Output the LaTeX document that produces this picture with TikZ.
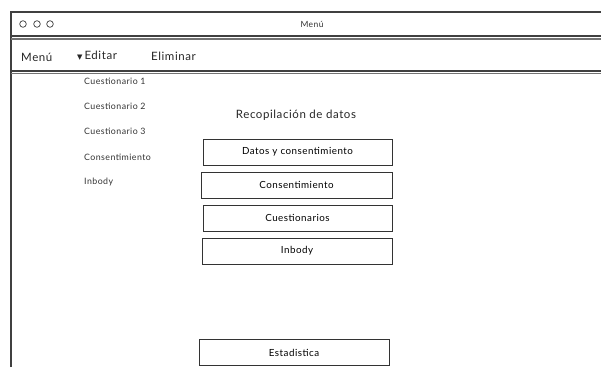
\documentclass[tikz,border=0pt]{standalone}
\usepackage{fontspec}
\setmainfont[LetterSpace=5]{Lato}
\newfontfamily\symfont{DejaVu Sans}
\begin{document}
\begin{tikzpicture}[x=1pt,y=-1pt,
  frame/.style={draw=black!75,line width=1.1pt},
  sideitem/.style={anchor=west,font=\fontsize{8.8}{10}\selectfont,text=black!80,inner sep=0pt},
  menuitem/.style={anchor=west,font=\fontsize{11.5}{13}\selectfont,text=black!85,inner sep=0pt},
  panelbox/.style={draw=black!80,line width=0.8pt,minimum height=26pt,inner sep=0pt,font=\fontsize{9.8}{11}\selectfont}]
\useasboundingbox (0,0) rectangle (601,367);
% window frame
\draw[frame] (11,367) -- (11,12) -- (601,12);
\draw[frame] (11,36) -- (601,36);
\draw[frame,draw=black!55] (11,39) -- (601,39);
\draw[frame] (11,71) -- (601,71);
\draw[frame,draw=black!55] (11,73.5) -- (601,73.5);
% window buttons
\foreach \cx in {23,37,50} \draw[black!80,line width=0.7pt] (\cx,24) circle (3.3);
\node[font=\fontsize{8.5}{10}\selectfont,text=black!80] (title) at (312,24) {Menú};
% menu bar
\node[menuitem] (menu) at (21,57) {Menú};
\node[menuitem] (editar) at (77,56) {{\symfont\fontsize{7}{7}\selectfont ▼}\,Editar};
\node[menuitem] (eliminar) at (151,56) {Eliminar};
% dropdown entries
\node[sideitem] (c1) at (84,81) {Cuestionario 1};
\node[sideitem] (c2) at (84,106) {Cuestionario 2};
\node[sideitem] (c3) at (84,131) {Cuestionario 3};
\node[sideitem] (cons) at (84,157) {Consentimiento};
\node[sideitem] (inb) at (84,182) {Inbody};
% central panel
\node[font=\fontsize{11.5}{13}\selectfont,text=black!85] (rec) at (296,115) {Recopilación de datos};
\node[panelbox,minimum width=189pt] (b1) at (297.5,152) {Datos y consentimiento};
\node[panelbox,minimum width=191pt] (b2) at (296.5,185) {Consentimiento};
\node[panelbox,minimum width=189pt] (b3) at (297.5,218) {Cuestionarios};
\node[panelbox,minimum width=190pt] (b4) at (297,251) {Inbody};
\node[panelbox,minimum width=190pt] (b5) at (294,352.5) {Estadistica};
\end{tikzpicture}
\end{document}
